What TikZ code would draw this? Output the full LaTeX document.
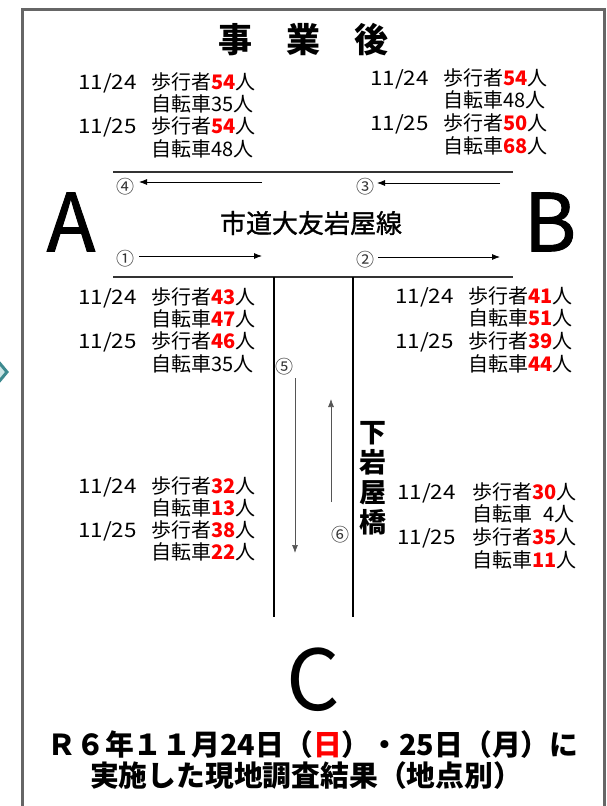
\documentclass[tikz,border=0pt]{standalone}
\usepackage{fontspec}
\setmainfont{Noto Sans CJK JP}
\newfontfamily\medfont{Noto Sans CJK JP}[FakeBold=1.2]
\usetikzlibrary{arrows.meta}
\definecolor{framegray}{HTML}{666666}
\definecolor{roadgray}{HTML}{333333}
\definecolor{arrgray}{HTML}{555555}
\definecolor{circgray}{HTML}{333333}
\definecolor{tealdark}{HTML}{3D8A8F}
\definecolor{teallight}{HTML}{CDE6E6}
\newcommand\rnum[1]{\textcolor{red}{\bfseries #1}}
\newcommand\drow[2]{\makebox[73pt][l]{\scalebox{1.12}[1]{#1}}#2}
\newcommand\drowb[2]{\makebox[75pt][l]{\scalebox{1.12}[1]{#1}}#2}
\begin{document}
\begin{tikzpicture}[x=1pt,y=-1pt,
  datablk/.style={anchor=north west,inner sep=0pt,align=left,font=\fontsize{20}{22.4}\selectfont},
  circnum/.style={inner sep=0pt,text=circgray,font=\fontsize{18}{18}\selectfont},
  roadline/.style={draw=roadgray,line width=2pt},
  sideline/.style={draw=black,line width=1.4pt},
  flowarr/.style={draw=black,line width=0.8pt,-{Latex[length=8pt,width=6pt]}},
  vflowarr/.style={draw=arrgray,line width=0.7pt,-{Latex[length=8pt,width=6pt]}},
  bigletter/.style={inner sep=0pt,font=\fontsize{80}{80}\selectfont\medfont}]
\useasboundingbox (0,0) rectangle (606,806);
% frame
\draw[framegray,line width=3pt] (22,806) -- (22,9.5) -- (604,9.5) -- (604,806);
% chevron at left
\draw[tealdark,line width=3pt,fill=teallight,line join=miter] (-12,360) -- (-3,360) -- (7,372) -- (-3,384) -- (-12,384) -- (-2,372) -- cycle;
% title
\node[inner sep=0pt,font=\fontsize{34}{34}\selectfont\bfseries] (title) at (303,40) {事　業　後};
% top blocks
\node[datablk] (blkTL) at (78,72) {\drow{11/24}{歩行者\rnum{54}人}\\
\drow{}{自転車35人}\\
\drow{11/25}{歩行者\rnum{54}人}\\
\drow{}{自転車48人}};
\node[datablk,font=\fontsize{20}{22.7}\selectfont] (blkTR) at (370,68) {\drow{11/24}{歩行者\rnum{54}人}\\
\drow{}{自転車48人}\\
\drow{11/25}{歩行者\rnum{50}人}\\
\drow{}{自転車\rnum{68}人}};
% road
\coordinate (rtL) at (113,172);
\coordinate (rtR) at (513,172);
\coordinate (rbL) at (113,277);
\coordinate (rbR) at (513,277);
\draw[roadline] (rtL) -- (rtR);
\draw[roadline] (rbL) -- (rbR);
% circled numbers and arrows on main road
\node[circnum] (n4) at (125,187) {④};
\node[circnum] (n3) at (365,187) {③};
\node[circnum] (n1) at (125,259) {①};
\node[circnum] (n2) at (365,260) {②};
\coordinate (a4s) at (262,182); \coordinate (a4e) at (139,182);
\coordinate (a3s) at (500,183); \coordinate (a3e) at (377,183);
\coordinate (a1s) at (139,256); \coordinate (a1e) at (262,256);
\coordinate (a2s) at (378,257); \coordinate (a2e) at (500,257);
\draw[flowarr] (a4s) -- (a4e);
\draw[flowarr] (a3s) -- (a3e);
\draw[flowarr] (a1s) -- (a1e);
\draw[flowarr] (a2s) -- (a2e);
% A, B
\node[bigletter] (ptA) at (71,222) {A};
\node[bigletter] (ptB) at (550,222) {B};
\node[inner sep=0pt,font=\fontsize{26}{26}\selectfont\medfont] (roadname) at (311,223) {市道大友岩屋線};
% side road
\coordinate (vlT) at (274,277); \coordinate (vlB) at (274,617);
\coordinate (vrT) at (353,277); \coordinate (vrB) at (353,617);
\draw[sideline] (vlT) -- (vlB);
\draw[sideline] (vrT) -- (vrB);
% middle blocks
\node[datablk] (blkML) at (78,287) {\drow{11/24}{歩行者\rnum{43}人}\\
\drow{}{自転車\rnum{47}人}\\
\drow{11/25}{歩行者\rnum{46}人}\\
\drow{}{自転車35人}};
\node[datablk,font=\fontsize{20}{22.7}\selectfont] (blkMR) at (395,286) {\drow{11/24}{歩行者\rnum{41}人}\\
\drow{}{自転車\rnum{51}人}\\
\drow{11/25}{歩行者\rnum{39}人}\\
\drow{}{自転車\rnum{44}人}};
% side road arrows
\node[circnum] (n5) at (284,367) {⑤};
\node[circnum] (n6) at (340,535) {⑥};
\coordinate (a5s) at (295,378); \coordinate (a5e) at (295,553);
\coordinate (a6s) at (331,502); \coordinate (a6e) at (331,399);
\draw[vflowarr] (a5s) -- (a5e);
\draw[vflowarr] (a6s) -- (a6e);
\node[inner sep=0pt,align=center,font=\fontsize{27}{30}\selectfont\bfseries] (bridge) at (373,478) {下\\岩\\屋\\橋};
% lower blocks
\node[datablk,font=\fontsize{20}{22}\selectfont] (blkLL) at (78,476) {\drow{11/24}{歩行者\rnum{32}人}\\
\drow{}{自転車\rnum{13}人}\\
\drow{11/25}{歩行者\rnum{38}人}\\
\drow{}{自転車\rnum{22}人}};
\node[datablk,font=\fontsize{20}{22.7}\selectfont] (blkLR) at (397,482) {\drowb{11/24}{歩行者\rnum{30}人}\\
\drowb{}{自転車\phantom{0}4人}\\
\drowb{11/25}{歩行者\rnum{35}人}\\
\drowb{}{自転車\rnum{11}人}};
% C
\node[bigletter,font=\fontsize{84}{84}\selectfont] (ptC) at (313,680) {C};
% caption
\node[inner sep=0pt,font=\fontsize{28.8}{28.8}\selectfont\bfseries] (cap1) at (313,745) {Ｒ６年１１月24日（\textcolor{red}{日}）・25日（月）に};
\node[inner sep=0pt,font=\fontsize{28.8}{28.8}\selectfont\bfseries] (cap2) at (306,776) {実施した現地調査結果（地点別）};
\end{tikzpicture}
\end{document}
